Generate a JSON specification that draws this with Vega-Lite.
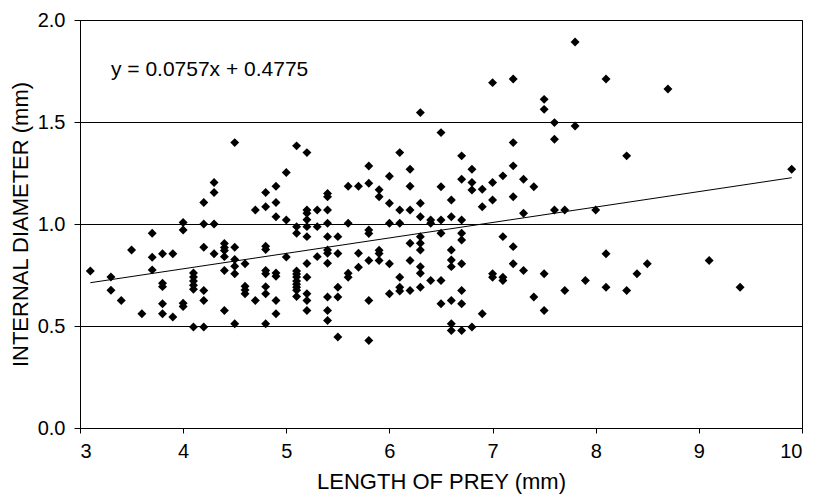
{
  "$schema": "https://vega.github.io/schema/vega-lite/v6.json",
  "width": 722,
  "height": 408,
  "autosize": {"type": "none"},
  "padding": {"left": 80, "top": 20, "right": 12, "bottom": 66},
  "background": "white",
  "config": {
    "view": {"stroke": "black", "strokeWidth": 1},
    "font": "Liberation Sans",
    "axis": {
      "labelFont": "Liberation Sans",
      "titleFont": "Liberation Sans",
      "labelColor": "black",
      "titleColor": "black",
      "domainColor": "black",
      "tickColor": "black",
      "labelFontSize": 20,
      "titleFontSize": 22,
      "titleFontWeight": "normal"
    }
  },
  "datasets": {
    "points": [
      {"length": 3.1, "diameter": 0.77},
      {"length": 3.3, "diameter": 0.74}, {"length": 3.3, "diameter": 0.675},
      {"length": 3.4, "diameter": 0.625},
      {"length": 3.5, "diameter": 0.873},
      {"length": 3.6, "diameter": 0.56},
      {"length": 3.7, "diameter": 0.955}, {"length": 3.7, "diameter": 0.837}, {"length": 3.7, "diameter": 0.775},
      {"length": 3.8, "diameter": 0.854}, {"length": 3.8, "diameter": 0.71}, {"length": 3.8, "diameter": 0.693}, {"length": 3.8, "diameter": 0.609}, {"length": 3.8, "diameter": 0.56},
      {"length": 3.9, "diameter": 0.854}, {"length": 3.9, "diameter": 0.544},
      {"length": 4.0, "diameter": 1.007}, {"length": 4.0, "diameter": 0.971}, {"length": 4.0, "diameter": 0.612}, {"length": 4.0, "diameter": 0.596},
      {"length": 4.1, "diameter": 0.76}, {"length": 4.1, "diameter": 0.74}, {"length": 4.1, "diameter": 0.72}, {"length": 4.1, "diameter": 0.7}, {"length": 4.1, "diameter": 0.68}, {"length": 4.1, "diameter": 0.495},
      {"length": 4.2, "diameter": 1.105}, {"length": 4.2, "diameter": 1.0}, {"length": 4.2, "diameter": 0.886}, {"length": 4.2, "diameter": 0.674}, {"length": 4.2, "diameter": 0.625}, {"length": 4.2, "diameter": 0.495},
      {"length": 4.3, "diameter": 1.203}, {"length": 4.3, "diameter": 1.154}, {"length": 4.3, "diameter": 1.0}, {"length": 4.3, "diameter": 0.854},
      {"length": 4.4, "diameter": 0.905}, {"length": 4.4, "diameter": 0.885}, {"length": 4.4, "diameter": 0.87}, {"length": 4.4, "diameter": 0.84}, {"length": 4.4, "diameter": 0.772}, {"length": 4.4, "diameter": 0.576},
      {"length": 4.5, "diameter": 1.399}, {"length": 4.5, "diameter": 0.886}, {"length": 4.5, "diameter": 0.826}, {"length": 4.5, "diameter": 0.793}, {"length": 4.5, "diameter": 0.756}, {"length": 4.5, "diameter": 0.511},
      {"length": 4.6, "diameter": 0.805}, {"length": 4.6, "diameter": 0.695}, {"length": 4.6, "diameter": 0.677}, {"length": 4.6, "diameter": 0.658},
      {"length": 4.7, "diameter": 1.069}, {"length": 4.7, "diameter": 0.625},
      {"length": 4.8, "diameter": 1.154}, {"length": 4.8, "diameter": 1.085}, {"length": 4.8, "diameter": 0.891}, {"length": 4.8, "diameter": 0.875}, {"length": 4.8, "diameter": 0.772}, {"length": 4.8, "diameter": 0.756}, {"length": 4.8, "diameter": 0.693}, {"length": 4.8, "diameter": 0.658}, {"length": 4.8, "diameter": 0.511},
      {"length": 4.9, "diameter": 1.185}, {"length": 4.9, "diameter": 1.105}, {"length": 4.9, "diameter": 1.036}, {"length": 4.9, "diameter": 0.76}, {"length": 4.9, "diameter": 0.744}, {"length": 4.9, "diameter": 0.625}, {"length": 4.9, "diameter": 0.56},
      {"length": 5.0, "diameter": 1.252}, {"length": 5.0, "diameter": 1.02}, {"length": 5.0, "diameter": 0.838},
      {"length": 5.1, "diameter": 1.383}, {"length": 5.1, "diameter": 0.987}, {"length": 5.1, "diameter": 0.955}, {"length": 5.1, "diameter": 0.77}, {"length": 5.1, "diameter": 0.755}, {"length": 5.1, "diameter": 0.74}, {"length": 5.1, "diameter": 0.72}, {"length": 5.1, "diameter": 0.705}, {"length": 5.1, "diameter": 0.69}, {"length": 5.1, "diameter": 0.675}, {"length": 5.1, "diameter": 0.645},
      {"length": 5.2, "diameter": 1.35}, {"length": 5.2, "diameter": 1.069}, {"length": 5.2, "diameter": 1.053}, {"length": 5.2, "diameter": 1.021}, {"length": 5.2, "diameter": 0.987}, {"length": 5.2, "diameter": 0.938}, {"length": 5.2, "diameter": 0.806}, {"length": 5.2, "diameter": 0.739}, {"length": 5.2, "diameter": 0.658}, {"length": 5.2, "diameter": 0.625}, {"length": 5.2, "diameter": 0.576},
      {"length": 5.3, "diameter": 1.069}, {"length": 5.3, "diameter": 0.987}, {"length": 5.3, "diameter": 0.84},
      {"length": 5.4, "diameter": 1.15}, {"length": 5.4, "diameter": 1.134}, {"length": 5.4, "diameter": 1.069}, {"length": 5.4, "diameter": 1.004}, {"length": 5.4, "diameter": 0.938}, {"length": 5.4, "diameter": 0.873}, {"length": 5.4, "diameter": 0.857}, {"length": 5.4, "diameter": 0.808}, {"length": 5.4, "diameter": 0.642}, {"length": 5.4, "diameter": 0.576}, {"length": 5.4, "diameter": 0.527},
      {"length": 5.5, "diameter": 0.938}, {"length": 5.5, "diameter": 0.855}, {"length": 5.5, "diameter": 0.69}, {"length": 5.5, "diameter": 0.642}, {"length": 5.5, "diameter": 0.446},
      {"length": 5.6, "diameter": 1.185}, {"length": 5.6, "diameter": 1.004}, {"length": 5.6, "diameter": 0.759}, {"length": 5.6, "diameter": 0.739},
      {"length": 5.7, "diameter": 1.185}, {"length": 5.7, "diameter": 0.857}, {"length": 5.7, "diameter": 0.788},
      {"length": 5.8, "diameter": 1.284}, {"length": 5.8, "diameter": 1.2}, {"length": 5.8, "diameter": 0.971}, {"length": 5.8, "diameter": 0.953}, {"length": 5.8, "diameter": 0.821}, {"length": 5.8, "diameter": 0.625}, {"length": 5.8, "diameter": 0.429},
      {"length": 5.9, "diameter": 1.168}, {"length": 5.9, "diameter": 1.134}, {"length": 5.9, "diameter": 0.871}, {"length": 5.9, "diameter": 0.855}, {"length": 5.9, "diameter": 0.821},
      {"length": 6.0, "diameter": 1.234}, {"length": 6.0, "diameter": 1.102}, {"length": 6.0, "diameter": 1.004}, {"length": 6.0, "diameter": 0.805}, {"length": 6.0, "diameter": 0.658},
      {"length": 6.1, "diameter": 1.35}, {"length": 6.1, "diameter": 1.069}, {"length": 6.1, "diameter": 1.004}, {"length": 6.1, "diameter": 0.739}, {"length": 6.1, "diameter": 0.69}, {"length": 6.1, "diameter": 0.672},
      {"length": 6.2, "diameter": 1.268}, {"length": 6.2, "diameter": 1.185}, {"length": 6.2, "diameter": 1.069}, {"length": 6.2, "diameter": 0.906}, {"length": 6.2, "diameter": 0.821}, {"length": 6.2, "diameter": 0.674},
      {"length": 6.3, "diameter": 1.546}, {"length": 6.3, "diameter": 1.102}, {"length": 6.3, "diameter": 1.036}, {"length": 6.3, "diameter": 0.938}, {"length": 6.3, "diameter": 0.906}, {"length": 6.3, "diameter": 0.873}, {"length": 6.3, "diameter": 0.791}, {"length": 6.3, "diameter": 0.759}, {"length": 6.3, "diameter": 0.69},
      {"length": 6.4, "diameter": 1.02}, {"length": 6.4, "diameter": 1.004}, {"length": 6.4, "diameter": 0.723},
      {"length": 6.5, "diameter": 1.448}, {"length": 6.5, "diameter": 1.183}, {"length": 6.5, "diameter": 1.02}, {"length": 6.5, "diameter": 0.955}, {"length": 6.5, "diameter": 0.723}, {"length": 6.5, "diameter": 0.609},
      {"length": 6.6, "diameter": 1.118}, {"length": 6.6, "diameter": 1.036}, {"length": 6.6, "diameter": 0.873}, {"length": 6.6, "diameter": 0.824}, {"length": 6.6, "diameter": 0.791}, {"length": 6.6, "diameter": 0.625}, {"length": 6.6, "diameter": 0.511}, {"length": 6.6, "diameter": 0.478},
      {"length": 6.7, "diameter": 1.334}, {"length": 6.7, "diameter": 1.219}, {"length": 6.7, "diameter": 1.02}, {"length": 6.7, "diameter": 0.955}, {"length": 6.7, "diameter": 0.922}, {"length": 6.7, "diameter": 0.805}, {"length": 6.7, "diameter": 0.674}, {"length": 6.7, "diameter": 0.609}, {"length": 6.7, "diameter": 0.478},
      {"length": 6.8, "diameter": 1.268}, {"length": 6.8, "diameter": 1.203}, {"length": 6.8, "diameter": 1.167}, {"length": 6.8, "diameter": 0.495},
      {"length": 6.9, "diameter": 1.17}, {"length": 6.9, "diameter": 1.085}, {"length": 6.9, "diameter": 0.56},
      {"length": 7.0, "diameter": 1.693}, {"length": 7.0, "diameter": 1.203}, {"length": 7.0, "diameter": 1.118}, {"length": 7.0, "diameter": 0.756}, {"length": 7.0, "diameter": 0.739},
      {"length": 7.1, "diameter": 1.236}, {"length": 7.1, "diameter": 0.938}, {"length": 7.1, "diameter": 0.739}, {"length": 7.1, "diameter": 0.723},
      {"length": 7.2, "diameter": 1.711}, {"length": 7.2, "diameter": 1.399}, {"length": 7.2, "diameter": 1.285}, {"length": 7.2, "diameter": 1.134}, {"length": 7.2, "diameter": 0.889}, {"length": 7.2, "diameter": 0.805},
      {"length": 7.3, "diameter": 1.219}, {"length": 7.3, "diameter": 1.053}, {"length": 7.3, "diameter": 0.772},
      {"length": 7.4, "diameter": 1.183}, {"length": 7.4, "diameter": 0.642},
      {"length": 7.5, "diameter": 1.611}, {"length": 7.5, "diameter": 1.562}, {"length": 7.5, "diameter": 0.756}, {"length": 7.5, "diameter": 0.576},
      {"length": 7.6, "diameter": 1.497}, {"length": 7.6, "diameter": 1.415}, {"length": 7.6, "diameter": 1.069},
      {"length": 7.7, "diameter": 1.069}, {"length": 7.7, "diameter": 0.674},
      {"length": 7.8, "diameter": 1.892}, {"length": 7.8, "diameter": 1.48},
      {"length": 7.9, "diameter": 0.723},
      {"length": 8.0, "diameter": 1.069},
      {"length": 8.1, "diameter": 1.711}, {"length": 8.1, "diameter": 0.854}, {"length": 8.1, "diameter": 0.69},
      {"length": 8.3, "diameter": 1.334}, {"length": 8.3, "diameter": 0.674},
      {"length": 8.4, "diameter": 0.756},
      {"length": 8.5, "diameter": 0.805},
      {"length": 8.7, "diameter": 1.662},
      {"length": 9.1, "diameter": 0.821},
      {"length": 9.4, "diameter": 0.69},
      {"length": 9.9, "diameter": 1.268}
    ],
    "trend": [
      {"length": 3.1, "diameter": 0.7122},
      {"length": 9.9, "diameter": 1.2269}
    ],
    "label": [
      {"length": 3.3, "diameter": 1.755, "text": "y = 0.0757x + 0.4775"}
    ]
  },
  "layer": [
    {
      "data": {"name": "points"},
      "mark": {"type": "point", "shape": "diamond", "filled": true, "color": "black", "opacity": 1, "size": 80},
      "encoding": {
        "x": {
          "field": "length", "type": "quantitative",
          "scale": {"domain": [3, 10], "nice": false, "zero": false},
          "axis": {
            "title": "LENGTH OF PREY (mm)",
            "values": [3, 4, 5, 6, 7, 8, 9, 10],
            "format": "d",
            "grid": false,
            "tickSize": 5,
            "labelPadding": 8,
            "titlePadding": 10
          }
        },
        "y": {
          "field": "diameter", "type": "quantitative",
          "scale": {"domain": [0, 2], "nice": false},
          "axis": {
            "title": "INTERNAL DIAMETER (mm)",
            "values": [0, 0.5, 1, 1.5, 2],
            "format": ".1f",
            "grid": true,
            "gridColor": "black",
            "gridOpacity": 1,
            "gridWidth": 1,
            "tickSize": 6,
            "labelPadding": 9,
            "titlePadding": 5
          }
        }
      }
    },
    {
      "data": {"name": "trend"},
      "mark": {"type": "line", "color": "black", "strokeWidth": 1},
      "encoding": {
        "x": {"field": "length", "type": "quantitative"},
        "y": {"field": "diameter", "type": "quantitative"}
      }
    },
    {
      "data": {"name": "label"},
      "mark": {"type": "text", "align": "left", "baseline": "middle", "fontSize": 21, "color": "black", "font": "Liberation Sans"},
      "encoding": {
        "x": {"field": "length", "type": "quantitative"},
        "y": {"field": "diameter", "type": "quantitative"},
        "text": {"field": "text"}
      }
    }
  ]
}
